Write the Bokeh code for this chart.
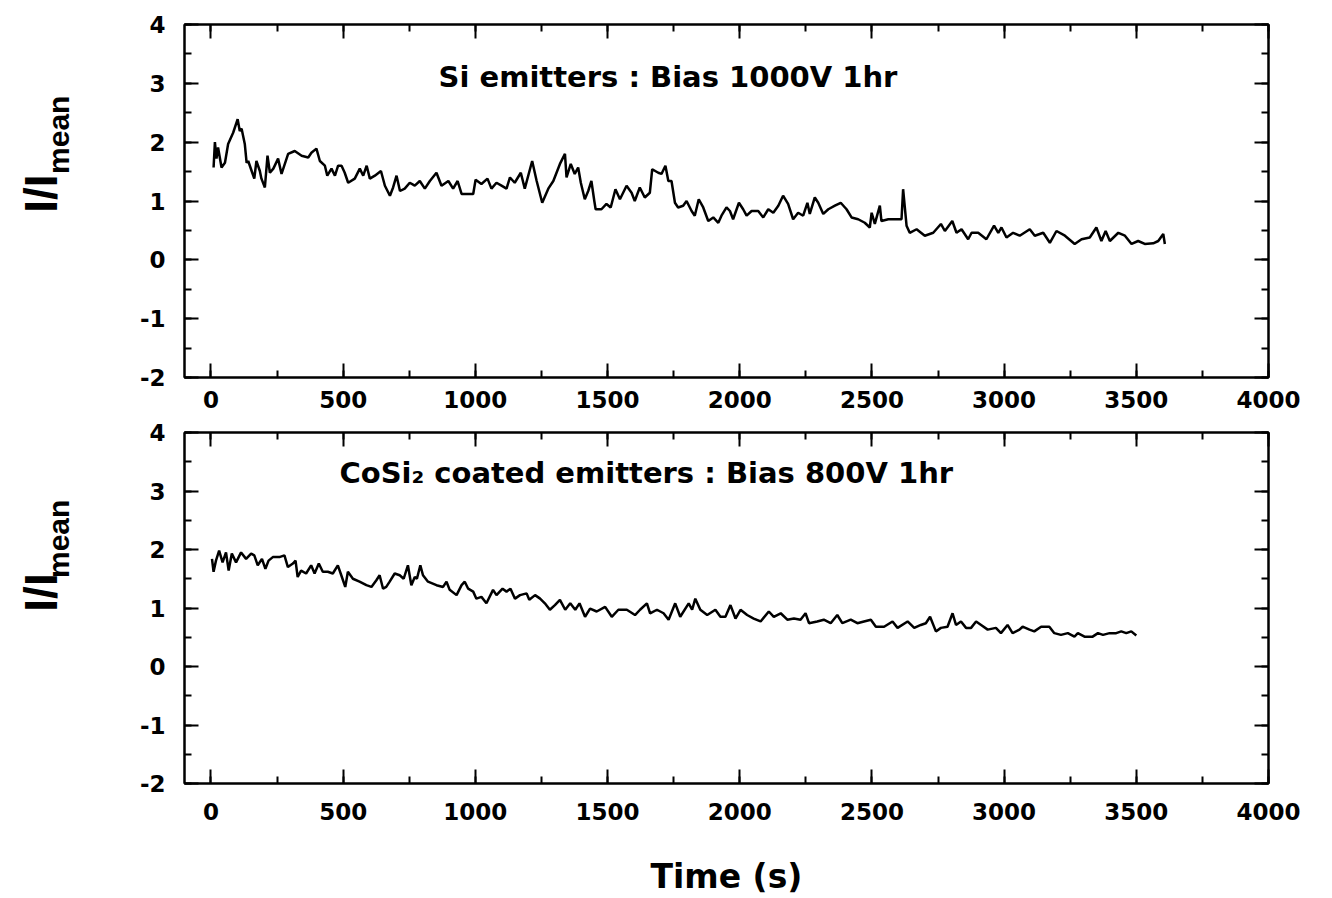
import math
from bokeh.plotting import figure
from bokeh.models import (LinearAxis, SingleIntervalTicker, Range1d, Label, PrintfTickFormatter,
                          CustomLabelingPolicy)
from bokeh.layouts import column, row
from bokeh.core.properties import value
from bokeh.embed import file_html
from bokeh.resources import INLINE

# ---------------- data ----------------
si_time = [10, 15, 21, 27, 40, 53, 65, 84, 101, 109, 116, 128, 135, 141, 154, 164, 172, 185, 191, 204,
           214, 223, 236, 254, 267, 292, 317, 343, 368, 380, 399, 412, 431, 440, 456, 469, 481, 494, 506, 519,
           544, 563, 576, 589, 601, 620, 643, 658, 677, 689, 702, 715, 733, 752, 771, 790, 809, 828, 853, 872,
           898, 916, 933, 948, 973, 992, 1001, 1023, 1046, 1061, 1080, 1099, 1118, 1131, 1149, 1172, 1187, 1215,
           1232, 1253, 1276, 1295, 1320,
           1339, 1345, 1361, 1376, 1389, 1399, 1414, 1427, 1439, 1450, 1455, 1477, 1496, 1512, 1530, 1547, 1572,
           1591, 1603, 1622, 1641, 1660, 1669, 1692, 1704, 1719, 1730, 1742, 1755, 1767, 1786, 1799, 1818, 1830,
           1845, 1862, 1881, 1900, 1919, 1931, 1950, 1963, 1975, 1997, 2013, 2026, 2045, 2070, 2089, 2108, 2127,
           2146, 2164, 2183, 2202, 2221, 2240, 2256, 2265, 2284, 2297, 2316, 2335, 2360, 2382, 2404, 2423, 2448,
           2473, 2492, 2499, 2511, 2530, 2536, 2562, 2587, 2612, 2618,
           2631, 2643, 2669, 2700, 2732, 2761, 2776, 2804, 2820, 2839, 2864, 2877, 2902, 2933, 2962, 2978, 2990,
           3009, 3034, 3059, 3097, 3116, 3148, 3173, 3198, 3230, 3267, 3293, 3324, 3349, 3368, 3384, 3400, 3432,
           3457, 3482, 3507, 3532, 3564, 3583, 3602, 3608]
si_ratio = [1.57, 2.00, 1.72, 1.91, 1.57, 1.65, 1.97, 2.16, 2.39, 2.19, 2.23, 1.97, 1.65, 1.68, 1.51, 1.38, 1.68,
            1.51, 1.38, 1.23, 1.77, 1.48, 1.55, 1.72, 1.46, 1.80, 1.85, 1.77, 1.74, 1.82, 1.89, 1.68, 1.60, 1.43,
            1.55, 1.43, 1.60, 1.60, 1.48, 1.31, 1.38, 1.55, 1.43, 1.60, 1.38, 1.43, 1.51, 1.26, 1.09, 1.23, 1.43,
            1.17, 1.21, 1.31, 1.26, 1.34, 1.21, 1.34, 1.48, 1.26, 1.34, 1.21, 1.34, 1.12, 1.12, 1.12, 1.36, 1.29,
            1.38, 1.21, 1.31, 1.26, 1.21, 1.40, 1.31, 1.48, 1.21, 1.68, 1.34, 0.97, 1.21, 1.34, 1.63,
            1.80, 1.40, 1.63, 1.46, 1.57, 1.31, 1.03, 1.17, 1.34, 1.00, 0.86, 0.86, 0.95, 0.89, 1.20, 1.03, 1.26,
            1.14, 1.00, 1.23, 1.06, 1.14, 1.54, 1.48, 1.46, 1.60, 1.34, 1.34, 0.97, 0.89, 0.92, 1.00, 0.83, 0.75,
            1.03, 0.89, 0.66, 0.72, 0.63, 0.75, 0.89, 0.83, 0.69, 0.97, 0.86, 0.75, 0.83, 0.83, 0.72, 0.86, 0.80,
            0.92, 1.09, 0.95, 0.69, 0.80, 0.75, 0.97, 0.78, 1.06, 0.97, 0.78, 0.86, 0.92, 0.97, 0.86, 0.72, 0.69,
            0.63, 0.55, 0.80, 0.61, 0.92, 0.66, 0.69, 0.69, 0.69, 1.20,
            0.58, 0.46, 0.52, 0.41, 0.46, 0.61, 0.49, 0.66, 0.46, 0.52, 0.35, 0.46, 0.46, 0.35, 0.58, 0.46, 0.55,
            0.38, 0.46, 0.41, 0.52, 0.41, 0.46, 0.29, 0.49, 0.41, 0.27, 0.35, 0.38, 0.55, 0.32, 0.49, 0.32, 0.46,
            0.41, 0.27, 0.32, 0.27, 0.28, 0.32, 0.44, 0.27]

cosi_time = [4, 10, 19, 31, 44, 57, 67, 79, 95, 114, 133, 152, 164, 177, 193, 206, 218, 234, 259, 278, 291, 310,
             320, 328, 341, 360, 379, 392, 408, 423, 442, 461, 480, 493, 508, 518, 537, 562, 588, 607, 625, 638,
             651, 663, 676, 695, 714, 729, 745, 758, 771, 779, 792, 802, 821, 853, 878, 891, 903, 929, 948, 960,
             973, 992, 1004, 1023, 1042, 1067, 1080, 1103, 1118, 1133, 1150, 1169, 1194, 1204, 1226, 1245, 1263,
             1282, 1301,
             1320, 1340, 1359, 1378, 1394, 1415, 1434, 1459, 1491, 1516, 1541, 1573, 1604, 1623, 1649, 1661, 1687,
             1712, 1731, 1756, 1775, 1807, 1820, 1832, 1851, 1877, 1908, 1927, 1946, 1965, 1984, 2003, 2028, 2053,
             2079, 2110, 2129, 2155, 2180, 2205, 2230, 2249, 2262, 2293, 2318, 2344, 2369, 2388, 2420, 2445, 2470,
             2496, 2515, 2546, 2578, 2597,
             2635, 2660, 2685, 2704, 2720, 2742, 2761, 2786, 2805, 2818, 2837, 2856, 2875, 2894, 2913, 2938, 2969,
             2988, 3013, 3032, 3058, 3070, 3096, 3114, 3140, 3171, 3190, 3215, 3241, 3266, 3279, 3304, 3335, 3355,
             3374, 3399, 3424, 3443, 3462, 3481, 3500]
cosi_ratio = [1.84, 1.62, 1.81, 1.98, 1.78, 1.95, 1.64, 1.93, 1.78, 1.95, 1.84, 1.93, 1.90, 1.73, 1.84, 1.67, 1.81,
              1.87, 1.87, 1.90, 1.70, 1.76, 1.81, 1.53, 1.64, 1.59, 1.73, 1.59, 1.76, 1.62, 1.62, 1.59, 1.73, 1.56,
              1.36, 1.62, 1.50, 1.45, 1.39, 1.36, 1.47, 1.56, 1.33, 1.36, 1.45, 1.59, 1.56, 1.50, 1.73, 1.39, 1.53,
              1.50, 1.73, 1.56, 1.45, 1.39, 1.36, 1.45, 1.31, 1.22, 1.39, 1.45, 1.33, 1.28, 1.16, 1.19, 1.08, 1.31,
              1.22, 1.33, 1.28, 1.33, 1.16, 1.22, 1.25, 1.14, 1.22, 1.16, 1.08, 0.97, 1.05,
              1.14, 0.97, 1.08, 0.97, 1.08, 0.85, 0.99, 0.94, 1.02, 0.85, 0.97, 0.97, 0.88, 0.97, 1.08, 0.91, 0.97,
              0.91, 0.80, 1.08, 0.85, 1.08, 0.97, 1.16, 0.97, 0.88, 0.97, 0.85, 0.85, 1.05, 0.82, 0.97, 0.88, 0.82,
              0.77, 0.94, 0.85, 0.91, 0.80, 0.82, 0.80, 0.91, 0.74, 0.77, 0.80, 0.74, 0.88, 0.74, 0.80, 0.74, 0.77,
              0.80, 0.68, 0.68, 0.77, 0.66,
              0.77, 0.66, 0.71, 0.74, 0.85, 0.60, 0.66, 0.68, 0.91, 0.71, 0.77, 0.66, 0.66, 0.77, 0.71, 0.63, 0.66,
              0.57, 0.71, 0.57, 0.63, 0.68, 0.63, 0.60, 0.68, 0.68, 0.57, 0.54, 0.57, 0.51, 0.57, 0.51, 0.51, 0.57,
              0.54, 0.57, 0.57, 0.60, 0.57, 0.60, 0.53]

panel_titles = ["Si emitters : Bias 1000V 1hr", "CoSi\u2082 coated emitters : Bias 800V 1hr"]
title_pos = [(861, 3.10), (486, 3.31)]
y_label_main = "I/I"
y_label_sub = "mean"
x_label = "Time (s)"
x_range = (-100, 4000)
y_range = (-2, 4)
x_tick_step = 500
y_tick_step = 1

FONT = "DejaVu Sans"
LFONT = "Liberation Sans"
LABEL_W = 100


def style_axis(ax, labels=True, standoff=19):
    ax.axis_line_width = 2
    ax.axis_line_color = "black"
    ax.major_tick_line_width = 2
    ax.minor_tick_line_width = 2
    ax.major_tick_line_color = "black"
    ax.minor_tick_line_color = "black"
    ax.major_tick_in = 14
    ax.major_tick_out = 0
    ax.minor_tick_in = 7
    ax.minor_tick_out = 0
    ax.formatter = PrintfTickFormatter(format="%d")
    if labels:
        ax.major_label_text_font = FONT
        ax.major_label_text_font_style = "bold"
        ax.major_label_text_font_size = "23px"
        ax.major_label_text_color = "black"
        ax.major_label_standoff = standoff
    else:
        ax.major_label_policy = CustomLabelingPolicy(code="return")
        ax.major_label_text_font_size = "1px"
        ax.major_label_standoff = 0


def make_label_fig(height, main_y, sub_y):
    q = figure(width=LABEL_W, height=height, x_range=Range1d(0, LABEL_W), y_range=Range1d(0, height),
               output_backend="svg", toolbar_location=None, x_axis_location=None, y_axis_location=None,
               min_border=0)
    q.grid.visible = False
    q.outline_line_color = None
    q.text(x=[40], y=[main_y], text=[y_label_main], angle=math.pi / 2, text_font=value(LFONT),
           text_font_style="bold", text_font_size="46px", text_align="left",
           text_baseline="alphabetic", text_color="black")
    q.text(x=[58], y=[sub_y], text=[y_label_sub], angle=math.pi / 2, text_font=value(LFONT),
           text_font_style="bold", text_font_size="30px", text_align="left",
           text_baseline="alphabetic", text_color="black")
    return q


def make_panel(t, r, title, tpos, height, btop, bbottom, with_xlabel, xstandoff):
    p = figure(width=1332 - LABEL_W, height=height, x_range=Range1d(*x_range), y_range=Range1d(*y_range),
               output_backend="svg", toolbar_location=None,
               min_border_left=184 - LABEL_W, min_border_right=64, min_border_top=btop,
               min_border_bottom=bbottom)
    p.xgrid.visible = False
    p.ygrid.visible = False
    p.outline_line_color = "black"
    p.outline_line_width = 2
    p.background_fill_color = "white"
    p.border_fill_color = "white"

    bottom_ax = p.below[0]
    left_ax = p.left[0]
    bottom_ax.ticker = SingleIntervalTicker(interval=x_tick_step, num_minor_ticks=2)
    left_ax.ticker = SingleIntervalTicker(interval=y_tick_step, num_minor_ticks=2)
    style_axis(bottom_ax, standoff=xstandoff)
    style_axis(left_ax, standoff=19)

    top_ax = LinearAxis(ticker=SingleIntervalTicker(interval=x_tick_step, num_minor_ticks=2))
    right_ax = LinearAxis(ticker=SingleIntervalTicker(interval=y_tick_step, num_minor_ticks=2))
    style_axis(top_ax, labels=False)
    style_axis(right_ax, labels=False)
    p.add_layout(top_ax, "above")
    p.add_layout(right_ax, "right")

    if with_xlabel:
        bottom_ax.axis_label = x_label
        bottom_ax.axis_label_text_font = FONT
        bottom_ax.axis_label_text_font_style = "bold"
        bottom_ax.axis_label_text_font_size = "33px"
        bottom_ax.axis_label_text_color = "black"
        bottom_ax.axis_label_standoff = 34

    p.line(t, r, line_color="black", line_width=2.5)

    p.add_layout(Label(x=tpos[0], y=tpos[1], text=title, text_font=FONT, text_font_style="bold",
                       text_font_size="29px", text_baseline="middle", text_align="left", text_color="black"))
    return p


H1, H2 = 418, 480
p1 = make_panel(si_time, si_ratio, panel_titles[0], title_pos[0], H1, 24, 41, False, 13)
p2 = make_panel(cosi_time, cosi_ratio, panel_titles[1], title_pos[1], H2, 14, 112, True, 19)
q1 = make_label_fig(H1, H1 - 223, H1 - 177)
q2 = make_label_fig(H2, H2 - (663 - H1), H2 - (617 - H1))

layout = column(row(q1, p1, spacing=0), row(q2, p2, spacing=0), spacing=0)
open("out.html", "w").write(file_html(layout, INLINE))
